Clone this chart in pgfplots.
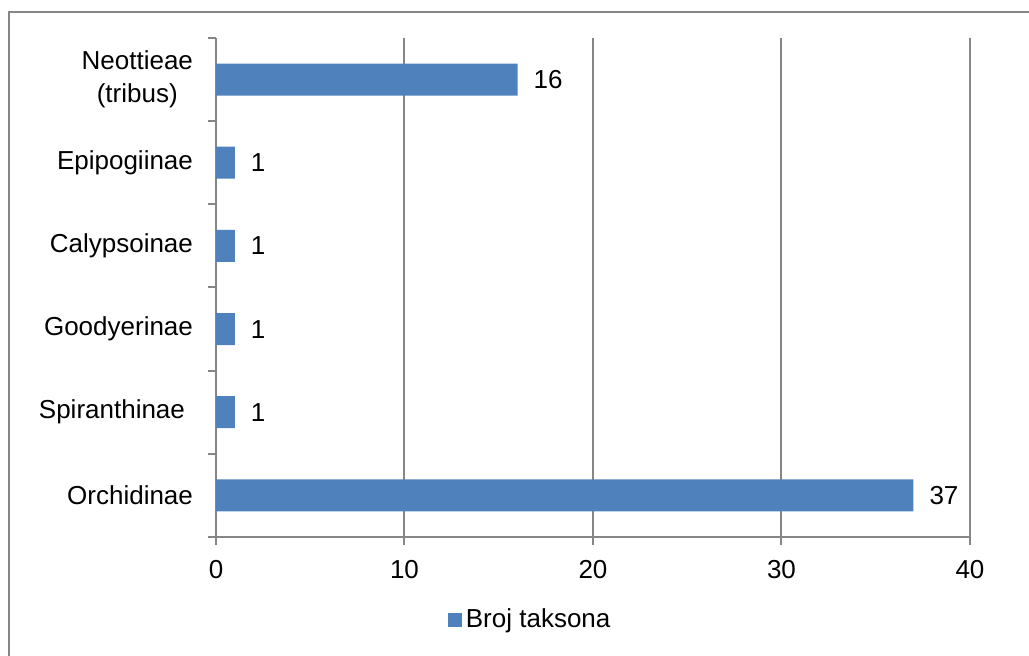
\documentclass[border=0pt]{standalone}
\usepackage{pgfplots}
\pgfplotsset{compat=1.18}
\usepackage{fontspec}
\setmainfont{Liberation Sans}
\definecolor{barblue}{HTML}{4F81BD}
\definecolor{axgray}{HTML}{868686}

\begin{document}
\begin{tikzpicture}
% picture is 1029 x 656 px, 1px = 0.5pt
\path[use as bounding box] (0,0) rectangle (514.5pt,328pt);
\draw[axgray, line width=1pt] (4.5pt,0) -- (4.5pt,322pt) -- (514.5pt,322pt);
\begin{axis}[
    at={(108pt,59.5pt)}, anchor=south west,
    scale only axis,
    width=377pt, height=249.5pt,
    xbar,
    bar width=16pt,
    xmin=0, xmax=40,
    ymin=-0.5, ymax=5.5,
    xtick={0,10,20,30,40},
    ytick={0,1,2,3,4,5},
    yticklabels={Orchidinae, Spiranthinae\hspace{4pt}, Goodyerinae, Calypsoinae, Epipogiinae, {Neottieae\\(tribus)}},
    minor ytick={-0.5,0.5,1.5,2.5,3.5,4.5,5.5},
    axis x line=bottom, axis y line=left,
    axis line style={-, axgray, line width=1pt},
    xmajorgrids=true,
    grid style={axgray, line width=1pt},
    major tick style={axgray, line width=1pt},
    minor tick style={axgray, line width=1pt},
    every major y tick/.append style={draw=none},
    tick align=outside,
    major tick length=4pt,
    minor tick length=4pt,
    /pgf/number format/assume math mode=true,
    tick label style={font=\fontsize{13}{15}\selectfont, text=black},
    yticklabel style={align=center, xshift=-4pt, font=\fontsize{13}{16.5}\selectfont},
    xticklabel style={yshift=-4pt},
    nodes near coords,
    every node near coord/.append style={font=\fontsize{13}{15}\selectfont, text=black, xshift=4.5pt},
    legend style={at={(0.418,-0.166)}, anchor=center, draw=none, fill=none,
        font=\fontsize{13}{15}\selectfont, inner sep=0pt},
    legend image code/.code={\fill[barblue] (0pt,-3.5pt) rectangle (7pt,3.5pt);},
]
\addplot[fill=barblue, draw=none] coordinates {(37,0) (1,1) (1,2) (1,3) (1,4) (16,5)};
\addlegendentry{Broj taksona}
\end{axis}
\end{tikzpicture}
\end{document}
